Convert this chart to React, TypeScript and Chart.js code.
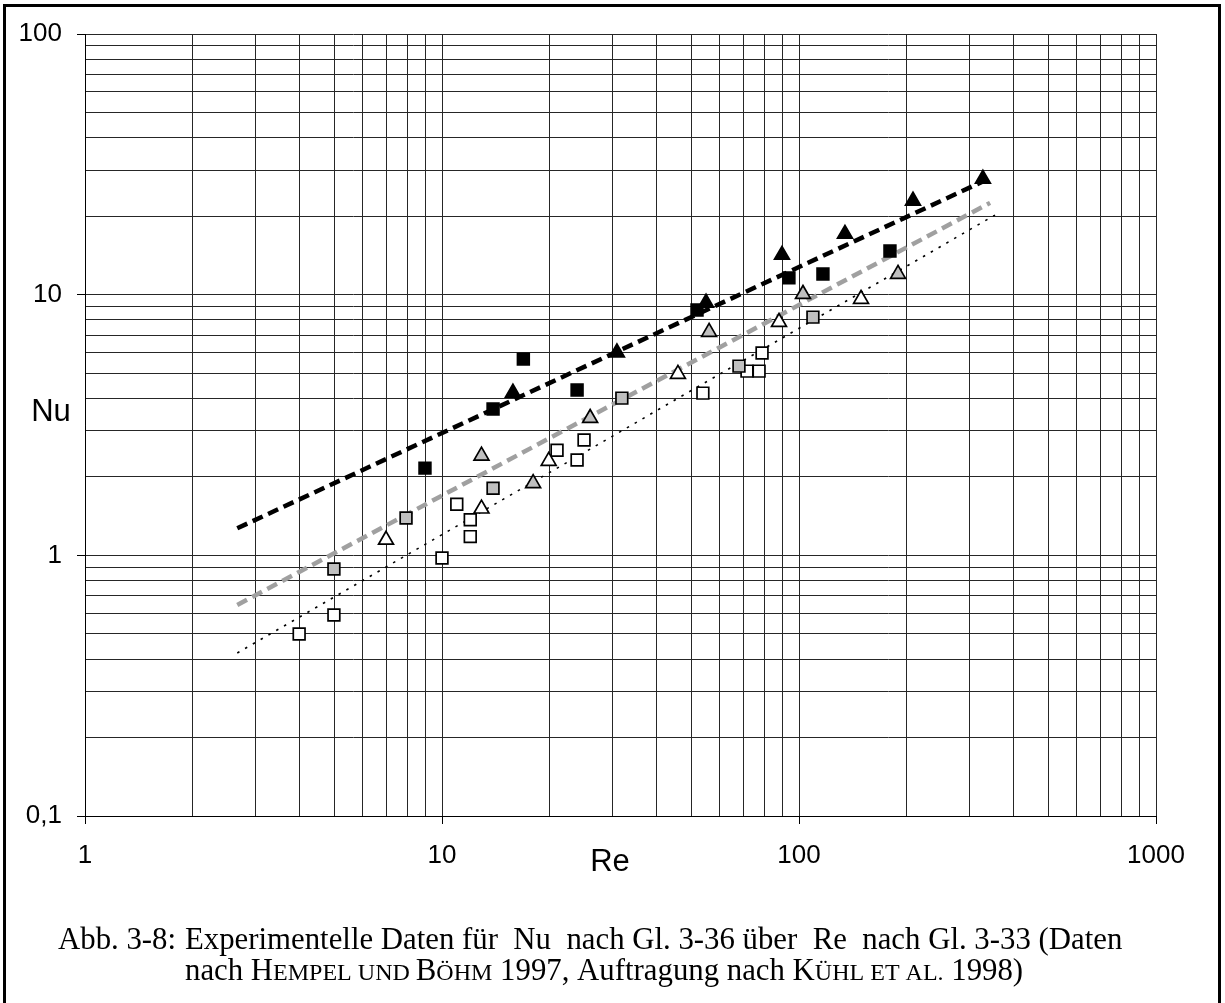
import React, { useEffect, useRef } from 'react';
import { Chart, registerables } from 'chart.js';

Chart.register(...registerables);

// ---- data (Re, Nu) ----
const blackTriRe = [15.8, 30.9, 54.9, 89.6, 134.5, 208.6, 327.5];
const blackTriNu = [4.2, 6.0, 9.3, 14.2, 17.1, 22.9, 27.8];

const blackSqRe = [8.96, 13.9, 16.9, 23.9, 51.8, 93.7, 116.7, 179.8];
const blackSqNu = [2.16, 3.64, 5.66, 4.31, 8.73, 11.6, 12.0, 14.7];

const grayTriRe = [12.9, 18.0, 26.0, 56.0, 102.6, 189.4];
const grayTriNu = [2.41, 1.89, 3.36, 7.19, 10.05, 12.0];

const graySqRe = [4.98, 7.93, 13.9, 31.9, 67.9, 109.4];
const graySqNu = [0.886, 1.39, 1.81, 4.01, 5.32, 8.2];

const whiteTriRe = [6.97, 12.9, 19.9, 45.8, 87.9, 149.2];
const whiteTriNu = [1.146, 1.51, 2.3, 4.96, 7.85, 9.62];

const whiteSqRe = [3.98, 4.98, 10.0, 11.0, 12.0, 12.0, 21.0, 25.0, 23.9, 53.8, 71.5, 77.3, 78.8];
const whiteSqNu = [0.499, 0.59, 0.977, 1.57, 1.37, 1.18, 2.53, 2.77, 2.32, 4.19, 5.09, 5.09, 5.97];

// fitted power-law lines (endpoints)
const blackFitRe = [2.67, 343];
const blackFitNu = [1.27, 28.0];
const grayFitRe = [2.67, 343];
const grayFitNu = [0.645, 22.5];
const whiteFitRe = [2.67, 354];
const whiteFitNu = [0.422, 20.2];

// ---- axes ----
const xTicks = [1, 2, 3, 4, 5, 6, 7, 8, 9, 10, 20, 30, 40, 50, 60, 70, 80, 90, 100, 200, 300, 400, 500, 600, 700, 800, 900, 1000];
const yTicks = [0.1, 0.2, 0.3, 0.4, 0.5, 0.6, 0.7, 0.8, 0.9, 1, 2, 3, 4, 5, 6, 7, 8, 9, 10, 20, 30, 40, 50, 60, 70, 80, 90, 100];
const xTickLabels: Record<string, string> = { '1': '1', '10': '10', '100': '100', '1000': '1000' };
const yTickLabels: Record<string, string> = { '0.1': '0,1', '1': '1', '10': '10', '100': '100' };

const xTitle = 'Re';
const yTitle = 'Nu';

const captionPrefix = 'Abb. 3-8:';
const captionLine1 = [{ t: 'Experimentelle Daten für  Nu  nach Gl. 3-36 über  Re  nach Gl. 3-33 (Daten', s: false }];
const captionLine2 = [
  { t: 'nach H', s: false },
  { t: 'EMPEL UND ', s: true },
  { t: 'B', s: false },
  { t: 'ÖHM', s: true },
  { t: ' 1997, Auftragung nach K', s: false },
  { t: 'ÜHL ET AL.', s: true },
  { t: ' 1998)', s: false },
];

const pts = (xs: number[], ys: number[]) => xs.map((x, i) => ({ x, y: ys[i] }));

const GRAY_FILL = '#c0c0c0';
const GRID = '#262626';

const decorPlugin = {
  id: 'decor',
  afterDraw(chart: any) {
    const ctx = chart.ctx as CanvasRenderingContext2D;
    ctx.save();
    // outer frame
    ctx.strokeStyle = '#000';
    ctx.lineWidth = 3;
    ctx.beginPath();
    ctx.moveTo(4.5, 1010);
    ctx.lineTo(4.5, 5.5);
    ctx.lineTo(1219.5, 5.5);
    ctx.lineTo(1219.5, 1010);
    ctx.stroke();

    // axis titles
    ctx.fillStyle = '#000';
    ctx.textAlign = 'center';
    ctx.textBaseline = 'middle';
    ctx.font = '31px "Liberation Sans", Arial, sans-serif';
    ctx.fillText(xTitle, 610, 862);
    ctx.fillText(yTitle, 51, 412);

    // caption
    const big = 30.8;
    const small = big * 0.78;
    const fam = '"Liberation Serif", "Times New Roman", serif';
    ctx.textAlign = 'left';
    ctx.textBaseline = 'alphabetic';
    ctx.font = `${big}px ${fam}`;
    ctx.fillText(captionPrefix, 58, 949);
    const drawLine = (segs: { t: string; s: boolean }[], x0: number, y: number) => {
      let x = x0;
      for (const seg of segs) {
        ctx.font = `${seg.s ? small : big}px ${fam}`;
        ctx.fillText(seg.t, x, y);
        x += ctx.measureText(seg.t).width;
      }
    };
    drawLine(captionLine1, 185, 949);
    drawLine(captionLine2, 185, 980);
    ctx.restore();
  },
};

const isLabeled = (map: Record<string, string>, v: number) => map[String(v)] !== undefined;

export default function App() {
  const ref = useRef<HTMLCanvasElement | null>(null);

  useEffect(() => {
    if (!ref.current) return;
    const markerBase = { showLine: false, pointBorderColor: '#000', pointBorderWidth: 1.7 };
    const chart = new Chart(ref.current, {
      type: 'scatter',
      data: {
        datasets: [
          { ...markerBase, label: 'bt', data: pts(blackTriRe, blackTriNu), pointStyle: 'triangle', pointRadius: 8.6, pointBackgroundColor: '#000', order: 1 },
          { ...markerBase, label: 'bs', data: pts(blackSqRe, blackSqNu), pointStyle: 'rect', pointRadius: 8.3, pointBackgroundColor: '#000', order: 2 },
          { ...markerBase, label: 'gt', data: pts(grayTriRe, grayTriNu), pointStyle: 'triangle', pointRadius: 8.6, pointBackgroundColor: GRAY_FILL, order: 3 },
          { ...markerBase, label: 'gs', data: pts(graySqRe, graySqNu), pointStyle: 'rect', pointRadius: 8.3, pointBackgroundColor: GRAY_FILL, order: 4 },
          { ...markerBase, label: 'wt', data: pts(whiteTriRe, whiteTriNu), pointStyle: 'triangle', pointRadius: 8.6, pointBackgroundColor: '#fff', order: 5 },
          { ...markerBase, label: 'ws', data: pts(whiteSqRe, whiteSqNu), pointStyle: 'rect', pointRadius: 8.3, pointBackgroundColor: '#fff', order: 6 },
          { label: 'bfit', data: pts(blackFitRe, blackFitNu), showLine: true, pointRadius: 0, borderColor: '#000', borderWidth: 4.5, borderDash: [11, 6], order: 10 },
          { label: 'gfit', data: pts(grayFitRe, grayFitNu), showLine: true, pointRadius: 0, borderColor: '#a0a0a0', borderWidth: 4.5, borderDash: [11, 6], order: 11 },
          { label: 'wfit', data: pts(whiteFitRe, whiteFitNu), showLine: true, pointRadius: 0, borderColor: '#000', borderWidth: 1.6, borderDash: [2.5, 6.5], order: 12 },
        ] as any,
      },
      options: {
        responsive: false,
        animation: false,
        devicePixelRatio: 1,
        layout: { padding: { left: 0, right: 69, top: 34, bottom: 137 } },
        plugins: { legend: { display: false }, tooltip: { enabled: false } },
        scales: {
          x: {
            type: 'logarithmic',
            min: 1,
            max: 1000,
            afterBuildTicks: (scale: any) => {
              scale.ticks = xTicks.map((v) => ({ value: v }));
            },
            afterFit: (scale: any) => {
              scale.height = 50;
            },
            ticks: {
              autoSkip: false,
              maxRotation: 0,
              padding: 16,
              color: '#000',
              font: { family: '"Liberation Sans", Arial, sans-serif', size: 26 },
              callback: (v: any) => xTickLabels[String(v)] ?? '',
            },
            grid: {
              color: GRID,
              lineWidth: 1,
              tickLength: 8,
              tickColor: (c: any) => (c.tick && isLabeled(xTickLabels, c.tick.value) ? '#000' : 'rgba(0,0,0,0)'),
            },
            border: { display: true, color: '#000', width: 1 },
          },
          y: {
            type: 'logarithmic',
            min: 0.1,
            max: 100,
            afterBuildTicks: (scale: any) => {
              scale.ticks = yTicks.map((v) => ({ value: v }));
            },
            afterFit: (scale: any) => {
              scale.width = 85;
            },
            ticks: {
              autoSkip: false,
              padding: 15,
              color: '#000',
              font: { family: '"Liberation Sans", Arial, sans-serif', size: 26 },
              callback: (v: any) => yTickLabels[String(v)] ?? '',
            },
            grid: {
              color: GRID,
              lineWidth: 1,
              tickLength: 8,
              tickColor: (c: any) => (c.tick && isLabeled(yTickLabels, c.tick.value) ? '#000' : 'rgba(0,0,0,0)'),
            },
            border: { display: true, color: '#000', width: 1 },
          },
        },
      } as any,
      plugins: [decorPlugin],
    });
    return () => chart.destroy();
  }, []);

  return (
    <div style={{ position: 'absolute', left: 0, top: 0, width: 1225, height: 1003, background: '#fff' }}>
      <canvas ref={ref} width={1225} height={1003} style={{ display: 'block', width: 1225, height: 1003 }} />
    </div>
  );
}
